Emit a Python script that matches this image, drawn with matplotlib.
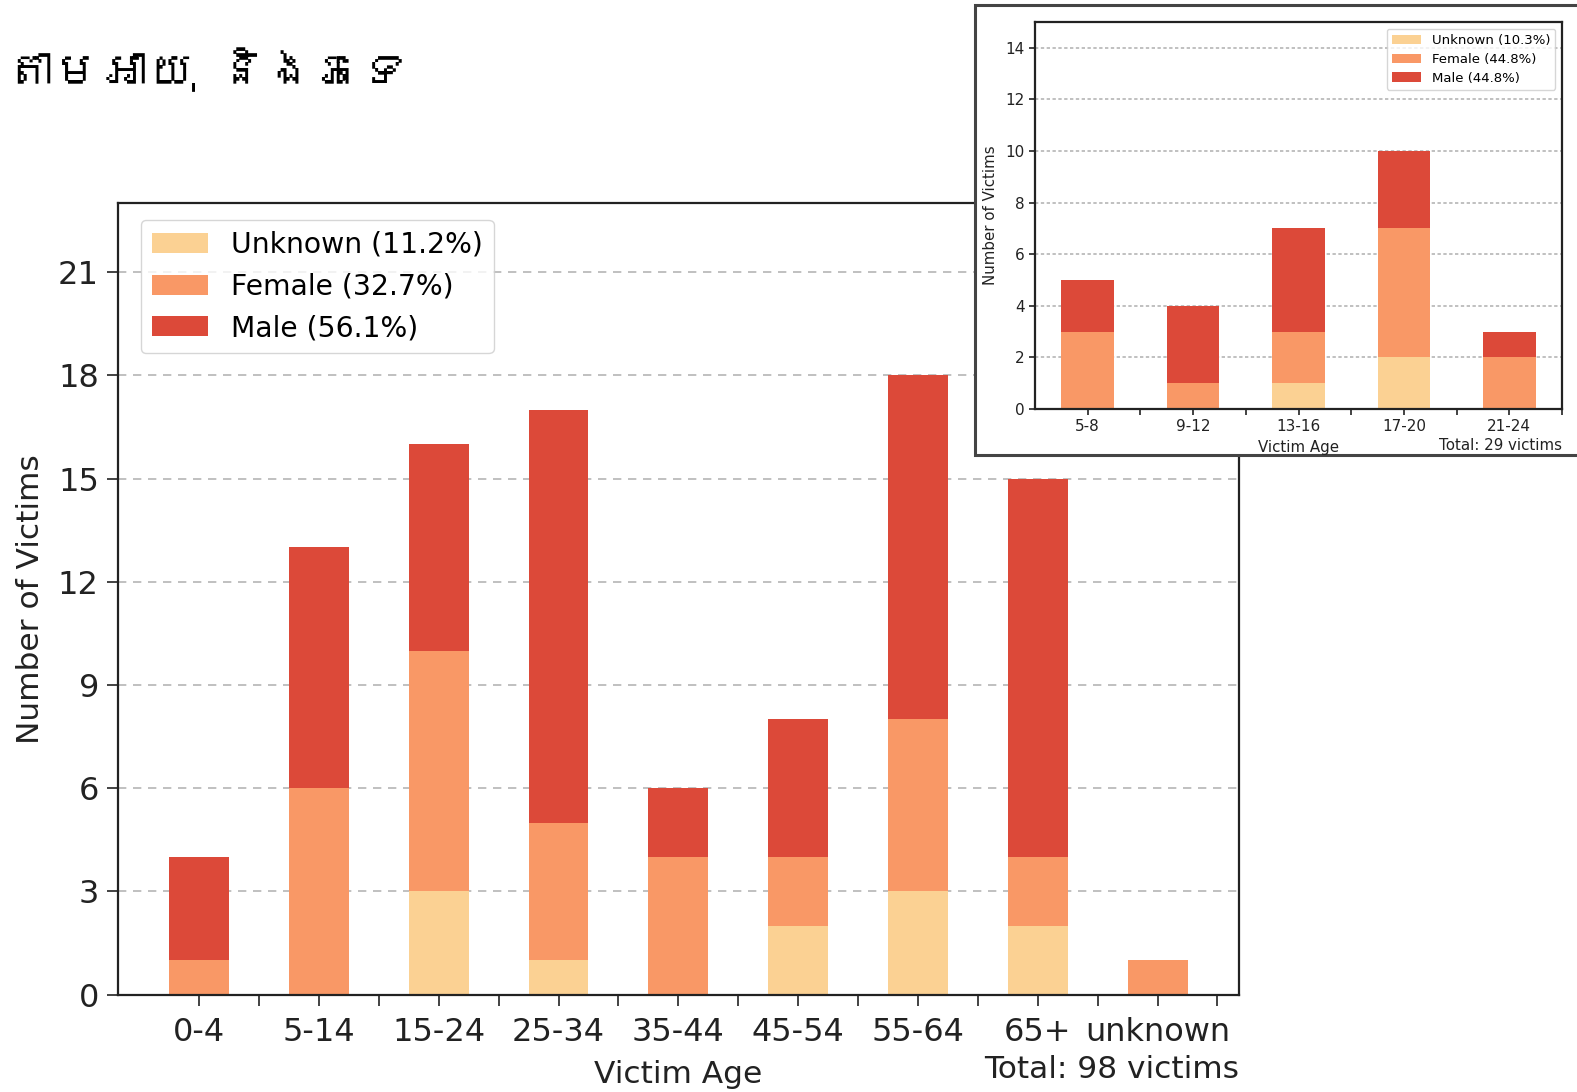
# Victims by age and sex: main chart plus the small inset chart (top right).
import matplotlib

matplotlib.use("Agg")
import matplotlib.pyplot as plt
import numpy as np
from matplotlib import font_manager
from matplotlib.ft2font import FT2Font
from matplotlib.patches import Rectangle

# main chart
ages = ["0-4", "5-14", "15-24", "25-34", "35-44", "45-54", "55-64", "65+", "unknown"]
unknown = [0, 0, 3, 1, 0, 2, 3, 2, 0]
female = [1, 6, 7, 4, 4, 2, 5, 2, 1]
male = [3, 7, 6, 12, 2, 4, 10, 11, 0]
legend_main = ["Unknown (11.2%)", "Female (32.7%)", "Male (56.1%)"]
total_main = "Total: 98 victims"

# inset chart
ages_inset = ["5-8", "9-12", "13-16", "17-20", "21-24"]
unknown_inset = [0, 0, 1, 2, 0]
female_inset = [3, 1, 2, 5, 2]
male_inset = [2, 3, 4, 3, 1]
legend_inset = ["Unknown (10.3%)", "Female (44.8%)", "Male (44.8%)"]
total_inset = "Total: 29 victims"

title = "តាមអាយុ និងភេទ"

UNKNOWN_COLOR = "#fbd193"
FEMALE_COLOR = "#f99866"
MALE_COLOR = "#dc4939"
TEXT = "#222222"


def khmer_font():
    # matplotlib has no Khmer font by default; take the first one that covers it
    for f in font_manager.fontManager.ttflist:
        try:
            if 0x1780 in FT2Font(f.fname).get_charmap():
                return f.name
        except Exception:
            pass
    return "DejaVu Sans"


def stacked(ax, labels, u, f, m, legend_labels, fs, grid_ls, tick_len, xpad, ypad):
    x = np.arange(len(labels))
    u, f, m = np.array(u), np.array(f), np.array(m)
    ax.bar(x, u, 0.5, color=UNKNOWN_COLOR, label=legend_labels[0], zorder=2)
    ax.bar(x, f, 0.5, bottom=u, color=FEMALE_COLOR, label=legend_labels[1], zorder=2)
    ax.bar(x, m, 0.5, bottom=u + f, color=MALE_COLOR, label=legend_labels[2], zorder=2)
    ax.set_xticks(x)
    ax.set_xticklabels(labels)
    ax.set_xticks(x + 0.5, minor=True)
    ax.tick_params(which="both", length=tick_len, width=1.2, labelsize=fs, colors=TEXT)
    ax.tick_params(axis="x", which="both", pad=xpad)
    ax.tick_params(axis="y", pad=ypad)
    ax.yaxis.grid(True, linestyle=grid_ls, color="#b5b5b5", linewidth=1.2, zorder=0)
    ax.set_axisbelow(True)
    for s in ax.spines.values():
        s.set_color(TEXT)
        s.set_linewidth(1.6)


fig = plt.figure(figsize=(15.77, 10.92), dpi=100)

ax = fig.add_axes([0.0746, 0.0891, 0.7111, 0.7248])
stacked(ax, ages, unknown, female, male, legend_main, 23, (0, (5, 4)), 8, 8, 5.5)
ax.set_xlim(-0.68, 8.68)
ax.set_ylim(0, 23)
ax.set_yticks(range(0, 22, 3))
ax.set_ylabel("Number of Victims", fontsize=22.5, color=TEXT, labelpad=9.5)
ax.set_xlabel("Victim Age", fontsize=22.5, color=TEXT, labelpad=9)
ax.annotate(total_main, xy=(1, 0), xycoords="axes fraction", xytext=(0, -54),
            textcoords="offset points", ha="right", va="center", fontsize=22.5, color=TEXT)
ax.legend(loc="upper left", fontsize=20.3, handlelength=2.0, handleheight=0.7,
          borderpad=0.4, labelspacing=0.48, handletextpad=0.8,
          bbox_to_anchor=(0.008, 0.997), edgecolor="#cccccc")

# frame and white background behind the inset
fig.add_artist(Rectangle((975 / 1577, 1 - 455 / 1092), 0.5, 450 / 1092,
                         transform=fig.transFigure, facecolor="white",
                         edgecolor="#444444", linewidth=2.2, zorder=1))

ins = fig.add_axes([0.6563, 0.6255, 0.3342, 0.3544])
ins.set_zorder(2)
stacked(ins, ages_inset, unknown_inset, female_inset, male_inset, legend_inset,
        11, (0, (2, 1.5)), 4, 3.5, 3.5)
ins.set_xlim(-0.5, 4.5)
ins.set_ylim(0, 15)
ins.set_yticks(range(0, 15, 2))
ins.set_ylabel("Number of Victims", fontsize=10.8, color=TEXT, labelpad=5)
ins.set_xlabel("Victim Age", fontsize=10.8, color=TEXT, labelpad=4)
ins.annotate(total_inset, xy=(1, 0), xycoords="axes fraction", xytext=(0, -26.3),
             textcoords="offset points", ha="right", va="center", fontsize=10.8, color=TEXT)
ins.legend(loc="upper right", fontsize=9.5, handlelength=2.2, handleheight=0.7,
           borderpad=0.4, labelspacing=0.45, handletextpad=0.8, edgecolor="#cccccc")

fig.text(0.004, 1 - 70 / 1092, title, fontsize=34, va="center", ha="left",
         family=[khmer_font(), "DejaVu Sans"], color="black")

fig.savefig("out.png", dpi=100)
